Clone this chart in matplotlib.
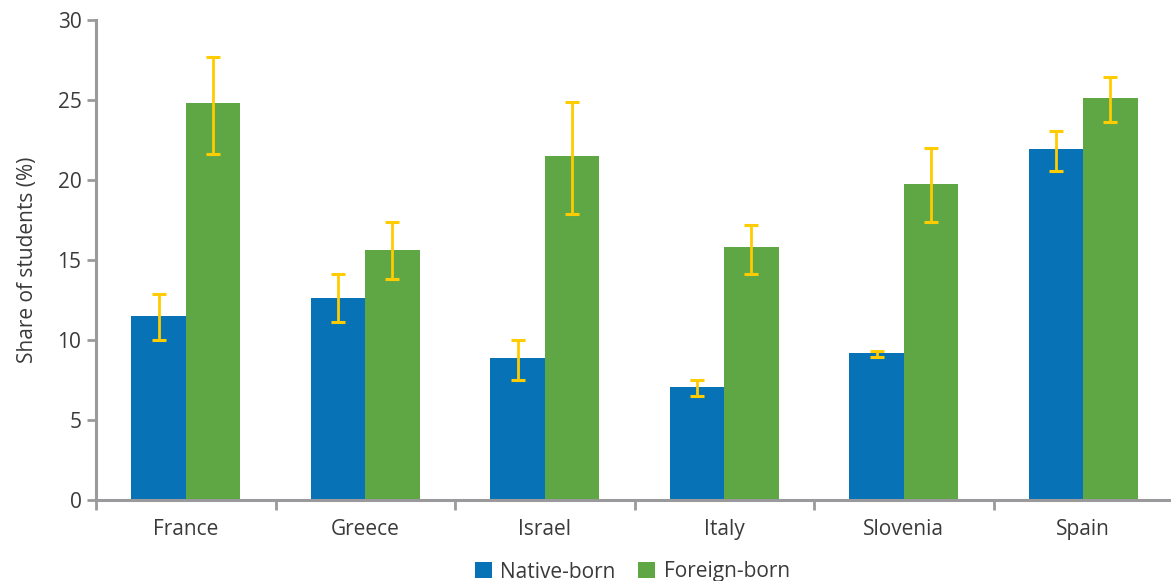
import numpy as np
import matplotlib.pyplot as plt

plt.rcParams['font.family'] = ['Open Sans', 'DejaVu Sans']

countries = ['France', 'Greece', 'Israel', 'Italy', 'Slovenia', 'Spain']

native = [11.5, 12.6, 8.85, 7.05, 9.15, 21.9]
native_lo = [10.0, 11.1, 7.5, 6.45, 8.9, 20.55]
native_hi = [12.85, 14.1, 10.0, 7.5, 9.3, 23.05]

foreign = [24.8, 15.6, 21.5, 15.8, 19.75, 25.1]
foreign_lo = [21.6, 13.8, 17.85, 14.1, 17.35, 23.6]
foreign_hi = [27.7, 17.35, 24.85, 17.15, 22.0, 26.45]

blue = '#0773b6'
green = '#5fa745'
gold = '#ffcc00'
axis_grey = '#9a9a9c'
text_grey = '#3a3a3a'
fs = 15

fig = plt.figure(figsize=(11.71, 5.81), dpi=100)
ax = fig.add_axes([96 / 1171, 81.5 / 581, 1077 / 1171, 479.5 / 581])

x = np.arange(len(countries))
w = 0.303

def err(vals, lo, hi):
    vals, lo, hi = map(np.array, (vals, lo, hi))
    return np.vstack([vals - lo, hi - vals])

ax.bar(x - w / 2, native, w, color=blue, label='Native-born', zorder=2)
ax.bar(x + w / 2, foreign, w, color=green, label='Foreign-born', zorder=2)
ax.errorbar(x - w / 2, native, yerr=err(native, native_lo, native_hi),
            fmt='none', ecolor=gold, elinewidth=2, capsize=5.2, capthick=2.2, zorder=3)
ax.errorbar(x + w / 2, foreign, yerr=err(foreign, foreign_lo, foreign_hi),
            fmt='none', ecolor=gold, elinewidth=2, capsize=5.2, capthick=2.2, zorder=3)

ax.set_xlim(-0.5, 5.5)
ax.set_ylim(0, 30)
ax.set_yticks(range(0, 31, 5))

# category labels centred, ticks on the boundaries between groups
ax.set_xticks(x)
ax.set_xticklabels(countries, fontsize=fs, color=text_grey)
ax.tick_params(axis='x', which='major', length=0, pad=14)
ax.set_xticks(np.arange(-0.5, 5.6, 1), minor=True)
ax.tick_params(axis='x', which='minor', length=7.5, width=2, color=axis_grey)
ax.tick_params(axis='y', length=6.5, width=2, color=axis_grey,
               labelsize=fs, labelcolor=text_grey, pad=4)

for side in ['top', 'right']:
    ax.spines[side].set_visible(False)
for side in ['left', 'bottom']:
    ax.spines[side].set_color(axis_grey)
    ax.spines[side].set_linewidth(2.2)

ax.set_ylabel('Share of students (%)', fontsize=fs, color=text_grey, labelpad=14)

fig.legend(loc='center', bbox_to_anchor=(0.54, 9 / 581), ncol=2, frameon=False,
           fontsize=fs, handlelength=0.8, handleheight=0.8, handletextpad=0.42,
           columnspacing=1.07, labelcolor=text_grey, borderpad=0)

fig.savefig('out.png', dpi=100)
